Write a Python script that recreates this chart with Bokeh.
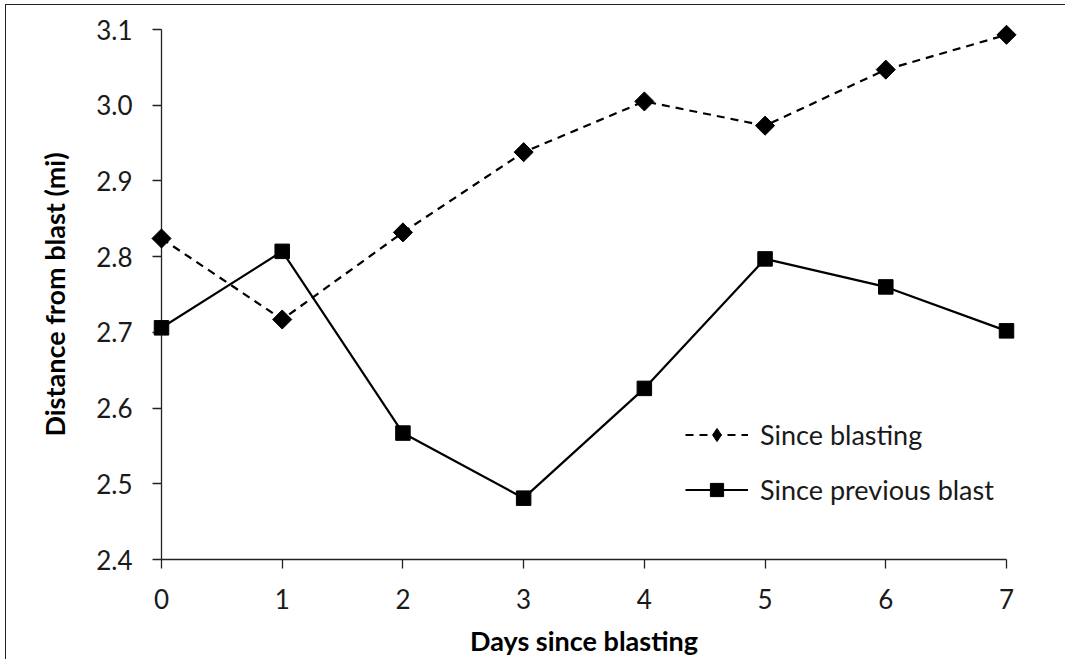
import math
from bokeh.plotting import figure
from bokeh.models import Range1d, FixedTicker, Legend, LegendItem, ColumnDataSource
from bokeh.embed import file_html
from bokeh.resources import INLINE

# values
days = [0, 1, 2, 3, 4, 5, 6, 7]
since_blasting = [2.824, 2.717, 2.832, 2.938, 3.005, 2.973, 3.047, 3.093]
since_previous = [2.706, 2.807, 2.567, 2.481, 2.626, 2.797, 2.760, 2.702]
y_ticks = [2.4, 2.5, 2.6, 2.7, 2.8, 2.9, 3.0, 3.1]
series_names = ["Since blasting", "Since previous blast"]

FONT = "Lato"
INK = "#1a1a1a"

p = figure(width=1060, height=655, output_backend="svg", toolbar_location=None,
           x_range=Range1d(0, 7), y_range=Range1d(2.4, 3.1),
           min_border_left=155, min_border_right=60, min_border_top=24, min_border_bottom=101)
p.styles = {"border-left": "1.5px solid #222", "border-top": "1.5px solid #222",
            "margin-left": "5px", "margin-top": "4px"}
p.outline_line_color = None
p.xgrid.visible = False
p.ygrid.visible = False

src1 = ColumnDataSource(dict(x=days, y=since_blasting))
src2 = ColumnDataSource(dict(x=days, y=since_previous))

l1 = p.line("x", "y", source=src1, line_color="black", line_width=2.2, line_dash="8 6")
l2 = p.line("x", "y", source=src2, line_color="black", line_width=2.2)
# a small diamond hidden under the big markers, only used for the legend swatch
# (the rotated square below loses its angle when drawn in a legend)
d1 = p.scatter("x", "y", source=src1, marker="diamond", size=8, color="black")
# markers go on the overlay level so the ones at the axis edges are not clipped
m1 = p.scatter("x", "y", source=src1, marker="square", size=13.5, angle=math.pi / 4,
               color="black", level="overlay")
m2 = p.scatter("x", "y", source=src2, marker="square", size=14.5, color="black",
               level="overlay")

for ax in (p.xaxis, p.yaxis):
    ax.axis_line_color = "#222"
    ax.axis_line_width = 1.3
    ax.major_tick_line_color = "#222"
    ax.major_tick_line_width = 1.3
    ax.major_tick_in = 0
    ax.major_tick_out = 9
    ax.minor_tick_line_color = None
    ax.major_label_text_font = FONT
    ax.major_label_text_font_size = "26px"
    ax.major_label_text_color = INK
    ax.axis_label_text_font = FONT
    ax.axis_label_text_font_style = "bold"
    ax.axis_label_text_font_size = "27px"
    ax.axis_label_text_color = "black"

p.xaxis.ticker = FixedTicker(ticks=days)
p.yaxis.ticker = FixedTicker(ticks=y_ticks)
p.yaxis.major_label_overrides = {t: f"{t:.1f}" for t in y_ticks}
p.xaxis.major_label_standoff = 20
p.yaxis.major_label_standoff = 20
p.xaxis.axis_label = "Days since blasting"
p.yaxis.axis_label = "Distance from blast (mi)"
p.xaxis.axis_label_standoff = 12
p.yaxis.axis_label_standoff = 22

legend = Legend(items=[LegendItem(label=series_names[0], renderers=[l1, d1]),
                       LegendItem(label=series_names[1], renderers=[l2, m2])],
                location=(524, 53), orientation="vertical",
                padding=0, margin=0, spacing=22,
                glyph_width=63, glyph_height=33, label_height=33, label_standoff=12,
                label_text_font=FONT, label_text_font_size="27px", label_text_color=INK,
                border_line_color=None, background_fill_alpha=0)
p.add_layout(legend, "center")

open("out.html", "w").write(file_html(p, INLINE))
